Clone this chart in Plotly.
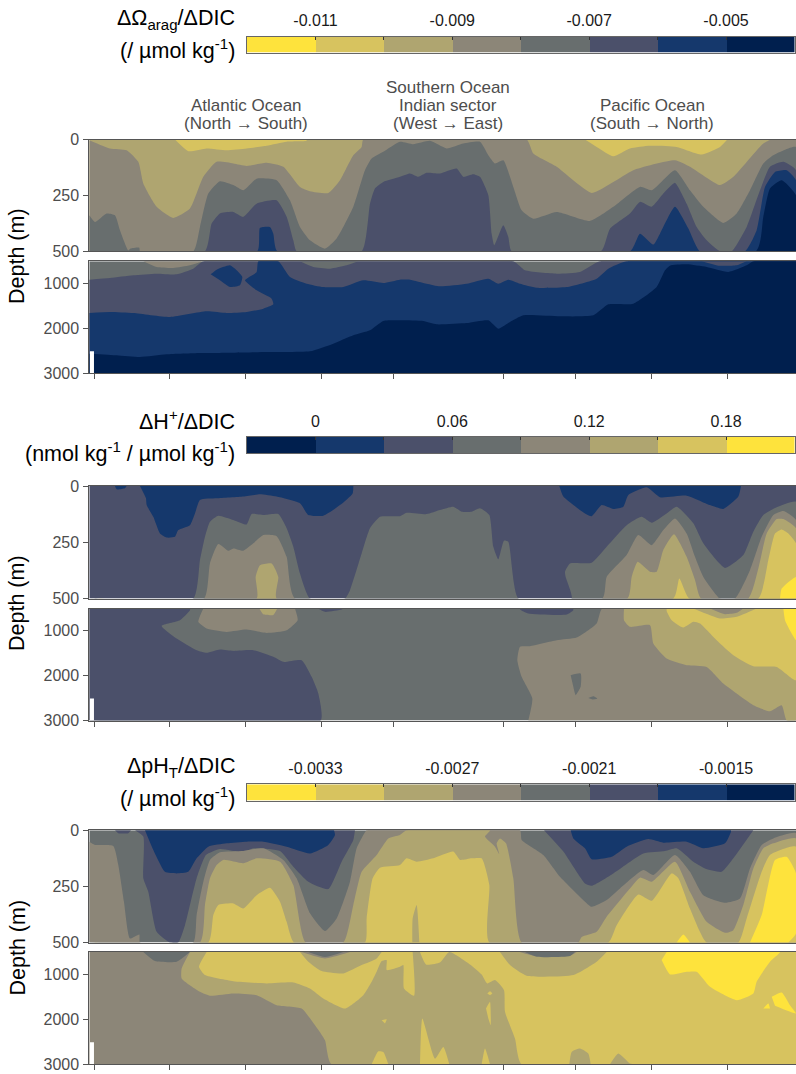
import plotly.graph_objects as go

W, H = 796, 1074
BANDS = {1: "#FEE33C", 2: "#D7C35F", 3: "#AFA570", 4: "#8C8678",
         5: "#686E6E", 6: "#4B506A", 7: "#15386C", 8: "#001F4E"}

SECTION_END = 2120
X_TICKS = [17, 242, 470, 697, 912, 1242, 1459, 1687, 1915]
UPPER_TICKS = [0, 250, 500]
LOWER_TICKS = [1000, 2000, 3000]
MISSING_X = [2, 14, 14, 2]
MISSING_D = [2510, 2510, 3000, 3000]

OMEGA_EDGES = [-0.012, -0.011, -0.010, -0.009, -0.008, -0.007, -0.006, -0.005, -0.004]
OMEGA_TICKS = [-0.011, -0.009, -0.007, -0.005]
OMEGA_LABELS = ["-0.011", "-0.009", "-0.007", "-0.005"]
OMEGA_BANDS = [1, 2, 3, 4, 5, 6, 7, 8]
HPLUS_EDGES = [-0.03, 0, 0.03, 0.06, 0.09, 0.12, 0.15, 0.18, 0.21]
HPLUS_TICKS = [0, 0.06, 0.12, 0.18]
HPLUS_LABELS = ["0", "0.06", "0.12", "0.18"]
HPLUS_BANDS = [8, 7, 6, 5, 4, 3, 2, 1]
PH_EDGES = [-0.0036, -0.0033, -0.0030, -0.0027, -0.0024, -0.0021, -0.0018, -0.0015, -0.0012]
PH_TICKS = [-0.0033, -0.0027, -0.0021, -0.0015]
PH_LABELS = ["-0.0033", "-0.0027", "-0.0021", "-0.0015"]
PH_BANDS = [1, 2, 3, 4, 5, 6, 7, 8]

# ---------- Omega, 0-500 m
OU_2A_X = [257, 297, 352, 412, 472, 532, 592, 652, 652]
OU_2A_D = [0, 52, 40, 48, 40, 28, 10, 6, 0]
OU_2B_X = [1487, 1522, 1572, 1622, 1682, 1762, 1837, 1892, 1914]
OU_2B_D = [0, 33, 75, 40, 28, 33, 67, 33, 0]
OU_4_X = [0, 62, 112, 147, 162, 202, 252, 302, 342, 382, 432, 472, 532, 582, 632, 662, 717, 752, 792, 817, 822,
          1312, 1332, 1402, 1507, 1572, 1632, 1757, 1802, 1892, 1932, 2022, 2047, 2120]
OU_4_D = [3, 40, 48, 100, 197, 301, 351, 309, 167, 100, 107, 118, 104, 122, 212, 231, 239, 182, 70, 33, 0,
          0, 63, 122, 239, 190, 137, 93, 122, 204, 167, 18, 0, 0]
OU_5_X = [0, 17, 52, 77, 92, 117, 124, 150, 152, 312, 332, 357, 392, 432, 462, 502, 562, 602, 632, 662, 707, 742, 792, 827, 847, 882, 932,
          972, 1022, 1072, 1122, 1172, 1197, 1217, 1242, 1272, 1297, 1332, 1402, 1502, 1572, 1652, 1687, 1757, 1802, 1842, 1902, 1942, 1982, 2022, 2052, 2120]
OU_5_D = [339, 369, 331, 339, 406, 496, 488, 484, 500, 500, 391, 242, 187, 204, 227, 175, 182, 272, 391, 451, 488, 443, 301, 137, 85, 55, 10,
          21, 6, 40, 18, 10, 70, 107, 93, 212, 316, 354, 324, 364, 301, 212, 227, 137, 227, 301, 373, 331, 227, 107, 70, 33]
OU_6_X = [0, 347, 367, 392, 432, 462, 502, 562, 592, 612, 622, 817, 842, 857, 882, 932, 962, 987, 1012, 1052, 1102, 1122, 1152, 1172, 1197, 1207, 1215, 1242, 1257, 1267,
          1535, 1562, 1622, 1652, 1687, 1722, 1757, 1792, 1822, 1852, 1892, 1927, 1972, 2012, 2042, 2082, 2120]
OU_6_D = [500, 500, 376, 331, 324, 346, 287, 272, 346, 451, 500, 500, 287, 219, 190, 167, 152, 167, 149, 152, 130, 167, 155, 167, 249, 421, 473, 384, 436, 500,
          500, 399, 331, 279, 301, 242, 194, 287, 391, 451, 500, 500, 391, 227, 122, 100, 137]
OU_7_X = [0, 504, 512, 542, 552, 564, 1622, 1652, 1692, 1712, 1757, 1797, 1832, 1967, 2002, 2027, 2057, 2092, 2120]
OU_7_D = [500, 500, 395, 391, 421, 500, 500, 421, 470, 421, 301, 398, 500, 500, 406, 212, 145, 137, 182]
OU_8_X = [0, 2000, 2022, 2042, 2077, 2120]
OU_8_D = [500, 500, 346, 219, 182, 249]

# ---------- Omega, below 500 m
OL_4A_X = [162, 202, 252, 302, 342]
OL_4A_D = [510, 637, 659, 600, 510]
OL_6_X = [0, 62, 132, 202, 262, 312, 342, 1272, 1307, 1402, 1472, 1532, 2120]
OL_6_D = [918, 881, 822, 785, 800, 674, 510, 510, 711, 785, 748, 510, 510]
OL_5B_X = [632, 672, 722, 772, 807]
OL_5B_D = [510, 637, 674, 600, 510]
OL_7_X = [0, 62, 132, 242, 352, 412, 472, 522, 552, 547, 502, 467, 502, 507, 567, 602, 652, 702, 762, 822, 882, 932,
          962, 1012, 1052, 1132, 1197, 1227, 1257, 1292, 1342, 1432, 1522, 1557, 1612, 2120]
OL_7_D = [1660, 1637, 1660, 1748, 1622, 1660, 1637, 1563, 1467, 1341, 1156, 933, 748, 510, 510, 859, 1007, 1082, 1082, 933, 993, 918,
          918, 1007, 1067, 1007, 896, 1007, 918, 1007, 1097, 1082, 896, 674, 510, 510]
OL_7I_X = [364, 382, 422, 442, 459, 452, 422, 392]
OL_7I_D = [800, 696, 600, 711, 859, 1045, 1082, 933]
OL_6B_X = [1837, 1887, 1942, 1972]
OL_6B_D = [510, 607, 600, 510]
OL_8_X = [0, 82, 152, 232, 332, 432, 532, 662, 732, 792, 842, 882, 932,
          1002, 1042, 1132, 1197, 1227, 1262, 1302, 1412, 1512, 1557, 1632, 1702, 1727, 1742, 1792, 1852, 1917, 1972, 1992, 2120]
OL_8_D = [2564, 2600, 2638, 2578, 2549, 2541, 2527, 2512, 2341, 2156, 2045, 1837, 1822,
          1837, 1911, 1882, 1822, 2008, 1859, 1711, 1733, 1711, 1467, 1452, 1082, 711, 607, 578, 637, 748, 600, 510, 510]

# ---------- H+, 0-500 m
HU_7A_X = [77, 82, 107, 112]
HU_7A_D = [0, 15, 10, 0]
HU_7B_X = [152, 170, 172, 192, 212, 232, 257, 267, 302, 317, 332, 382, 462, 512, 562, 632, 657, 702, 752, 790, 792]
HU_7B_D = [0, 55, 85, 137, 211, 229, 226, 196, 174, 122, 62, 55, 47, 37, 47, 77, 129, 132, 85, 33, 0]
HU_7C_X = [1410, 1422, 1487, 1507, 1537, 1572, 1602, 1617, 1672, 1712, 1792, 1862, 1902, 1947, 1955]
HU_7C_D = [0, 47, 122, 134, 85, 102, 92, 40, 6, 50, 43, 85, 102, 47, 0]
HU_5_X = [0, 312, 332, 347, 362, 387, 432, 472, 487, 527, 567, 592, 612, 632, 662, 767, 782, 817, 842, 872, 932,
          952, 1012, 1052, 1092, 1117, 1147, 1172, 1200, 1212, 1227, 1244, 1257, 1287, 1447, 1429, 1427, 1442, 1507, 1552, 1612, 1657, 1687, 1732, 1762, 1812, 1842, 1907, 1962, 1992, 2022, 2062, 2120]
HU_5_D = [500, 500, 329, 226, 159, 132, 151, 171, 125, 129, 125, 188, 270, 389, 500, 500, 463, 300, 188, 137, 134,
          119, 125, 107, 92, 114, 114, 99, 129, 270, 326, 243, 248, 500, 500, 404, 381, 344, 341, 270, 174, 137, 163, 122, 92, 166, 255, 364, 307, 203, 129, 95, 70]
HU_4_X = [0, 344, 362, 387, 417, 432, 462, 492, 522, 562, 592, 617, 1539, 1552, 1612, 1647, 1687, 1722, 1757, 1792, 1817, 1842, 1892, 1937, 1982, 2017, 2052, 2082, 2120]
HU_4_D = [500, 500, 344, 258, 288, 278, 288, 255, 218, 223, 315, 500, 500, 404, 307, 218, 263, 196, 144, 211, 315, 404, 500, 500, 374, 226, 129, 111, 151]
HU_3_X = [0, 502, 499, 512, 547, 567, 562, 1614, 1627, 1645, 1682, 1702, 1722, 1754, 1792, 1817, 1835, 1977, 2007, 2032, 2062, 2082, 2120]
HU_3_D = [500, 500, 404, 352, 344, 404, 500, 500, 404, 337, 381, 381, 285, 215, 315, 418, 500, 500, 367, 211, 147, 147, 188]
HU_2_X = [0, 1752, 1770, 1800, 2007, 2037, 2057, 2077, 2097, 2120]
HU_2_D = [500, 500, 411, 500, 500, 329, 211, 193, 211, 255]
HU_1_X = [2072, 2077, 2120, 2120]
HU_1_D = [500, 456, 404, 500]

# ---------- H+, below 500 m
HL_6A_X = [0, 302, 302, 272, 217, 262, 322, 352, 392, 432, 492, 552, 582, 637, 667, 687, 694, 0]
HL_6A_D = [510, 510, 548, 770, 896, 1178, 1437, 1496, 1422, 1452, 1437, 1585, 1696, 1659, 2030, 2400, 3000, 3000]
HL_6B_X = [687, 707, 757, 762]
HL_6B_D = [510, 585, 533, 510]
HL_6C_X = [1292, 1292, 1317, 1432, 1452, 1452]
HL_6C_D = [510, 533, 622, 644, 548, 510]
HL_4A_X = [342, 327, 352, 412, 472, 532, 592, 625, 617]
HL_4A_D = [510, 807, 955, 1030, 978, 1052, 993, 770, 510]
HL_3A_X = [510, 522, 552, 564]
HL_3A_D = [510, 637, 652, 510]
HL_4B_X = [1317, 1329, 1297, 1284, 1292, 1322, 1402, 1462, 1522, 1539, 2120, 2120]
HL_4B_D = [3000, 2512, 2030, 1659, 1363, 1348, 1215, 1156, 844, 510, 510, 3000]
HL_5A_X = [1444, 1474, 1474, 1459, 1452]
HL_5A_D = [1993, 1956, 2252, 2437, 2252]
HL_5B_X = [1497, 1512, 1524, 1510]
HL_5B_D = [2497, 2460, 2512, 2534]
HL_3B_X = [1604, 1604, 1622, 1682, 1692, 1732, 1792, 1852, 1902, 1942, 1992, 2042, 2077, 2092, 2120, 2120]
HL_3B_D = [510, 770, 918, 881, 1289, 1622, 1770, 1808, 2178, 2400, 2660, 2793, 2660, 3000, 3000, 510]
HL_2A_X = [1732, 1732, 1747, 1782, 1812, 1832, 1882, 1932, 1992, 2062, 2120, 2120]
HL_2A_D = [510, 563, 770, 933, 807, 844, 1215, 1548, 1793, 1808, 2104, 510]
HL_3C_X = [1812, 1892, 1942, 2002]
HL_3C_D = [510, 733, 696, 510]
HL_4C_X = [1862, 1907, 1942, 1962]
HL_4C_D = [510, 637, 607, 510]
HL_1_X = [2082, 2087, 2107, 2120, 2120]
HL_1_D = [510, 770, 1067, 1215, 510]

# ---------- pH, 0-500 m
PU_6A_X = [77, 87, 117, 125]
PU_6A_D = [0, 13, 13, 0]
PU_6B_X = [137, 162, 162, 177, 202, 242, 267, 287, 322, 350, 392, 462, 492, 572, 612, 657, 717, 757, 792, 797]
PU_6B_D = [0, 28, 214, 274, 452, 500, 500, 423, 214, 110, 83, 98, 80, 92, 162, 229, 262, 140, 43, 0]
PU_7A_X = [167, 192, 227, 262, 297, 322, 357, 412, 472, 522, 592, 662, 717, 737, 734]
PU_7A_D = [0, 88, 185, 192, 185, 125, 73, 58, 51, 51, 73, 103, 65, 21, 0]
PU_6C_X = [1364, 1422, 1487, 1507, 1572, 1662, 1727, 1762, 1812, 1847, 1897, 1932, 1992]
PU_6C_D = [0, 95, 237, 247, 192, 103, 92, 80, 140, 170, 185, 125, 0]
PU_7B_X = [1444, 1452, 1487, 1507, 1567, 1612, 1677, 1722, 1792, 1842, 1907, 1925, 1925]
PU_7B_D = [0, 36, 80, 129, 118, 73, 39, 55, 51, 80, 58, 6, 0]
PU_4_X = [0, 17, 72, 87, 104, 122, 150, 152, 312, 322, 342, 362, 392, 462, 522, 582, 622, 662, 707, 742, 782, 802, 827, 832,
          1292, 1297, 1362, 1412, 1487, 1507, 1552, 1592, 1662, 1692, 1757, 1802, 1842, 1907, 1952, 1982, 2017, 2052, 2120]
PU_4_D = [51, 65, 70, 155, 318, 482, 464, 500, 500, 378, 229, 132, 98, 92, 80, 132, 214, 370, 449, 393, 229, 80, 9, 0,
          0, 43, 110, 207, 318, 341, 311, 259, 177, 199, 110, 185, 289, 323, 304, 170, 65, 36, 13]
PU_3_X = [0, 332, 347, 362, 382, 402, 462, 502, 572, 612, 649, 762, 792, 817, 862, 897, 932,
          952, 1202, 1187, 1217, 1230, 1222, 1232, 1250, 1272, 1297, 1467, 1477, 1522, 1552, 1622, 1652, 1687, 1757, 1802, 1852, 1907, 1932, 1962, 1992, 2022, 2052, 2120]
PU_3_D = [500, 500, 333, 214, 155, 132, 147, 125, 140, 244, 500, 500, 333, 185, 110, 36, 21,
          0, 0, 28, 73, 107, 58, 36, 58, 214, 500, 500, 475, 452, 385, 259, 211, 229, 140, 274, 408, 457, 445, 333, 170, 80, 58, 36]
PU_2_X = [0, 357, 372, 387, 432, 462, 502, 542, 572, 592, 614, 827, 832, 850, 872, 932,
          952, 982, 1032, 1092, 1112, 1147, 1177, 1200, 1200, 1557, 1582, 1647, 1687, 1747, 1767, 1802, 1852, 1947, 1972, 2017, 2042, 2120]
PU_2_D = [500, 500, 378, 333, 326, 348, 289, 256, 318, 408, 500, 500, 393, 214, 167, 155,
          125, 140, 125, 95, 132, 125, 125, 244, 500, 500, 423, 286, 314, 192, 214, 348, 500, 500, 393, 185, 110, 73]
PU_3W_X = [969, 970, 982, 990]
PU_3W_D = [500, 393, 333, 500]
PU_1A_X = [1982, 2017, 2057, 2092, 2120, 2120, 2097]
PU_1A_D = [500, 378, 132, 118, 192, 460, 500]
PU_1B_X = [1762, 1782, 1802]
PU_1B_D = [500, 464, 500]

# ---------- pH, below 500 m
PL_5A_X = [162, 197, 262, 302]
PL_5A_D = [510, 711, 726, 510]
PL_3A_X = [302, 277, 277, 332, 362, 432, 502, 562, 637, 677, 707, 727, 2120, 2120]
PL_3A_D = [510, 874, 1096, 1393, 1481, 1430, 1467, 1689, 1763, 2134, 2467, 3000, 3000, 510]
PL_2A_X = [352, 329, 347, 432, 532, 612, 662, 702, 767, 822, 847, 862, 877, 892, 892, 932, 942, 944, 974, 970]
PL_2A_D = [510, 837, 1022, 1156, 1207, 1185, 1319, 1541, 1763, 1467, 1170, 948, 711, 689, 911, 837, 800, 1319, 1481, 510]
PL_3L_X = [632, 657, 697, 762, 817, 862, 877]
PL_3L_D = [510, 726, 933, 985, 800, 652, 510]
PL_4B_X = [637, 707, 782]
PL_4B_D = [510, 652, 510]
PL_5B_X = [657, 707, 762]
PL_5B_D = [510, 622, 510]
PL_2B_X = [992, 1010, 1052, 1080, 1142, 1177, 1194, 1217, 1244, 1247, 1277, 1297, 2120, 2120]
PL_2B_D = [510, 785, 741, 510, 785, 1007, 1207, 1133, 1356, 1837, 2430, 3000, 3000, 510]
PL_3B_X = [1232, 1262, 1312, 1452, 1522, 1552]
PL_3B_D = [510, 800, 1037, 1022, 726, 510]
PL_4C_X = [1292, 1332, 1442, 1462]
PL_4C_D = [510, 593, 593, 510]
PL_5C_X = [1307, 1342, 1442, 1457]
PL_5C_D = [510, 615, 600, 510]
PL_W1_X = [992, 999, 1037, 1062, 1080]
PL_W1_D = [3000, 1986, 2875, 2615, 3000]
PL_W2_X = [1177, 1187, 1202]
PL_W2_D = [3000, 2652, 3000]
PL_W3_X = [1190, 1202, 1204, 1197]
PL_W3_D = [1763, 1615, 2134, 1986]
PL_W4_X = [1194, 1202, 1209, 1202]
PL_W4_D = [1430, 1378, 1430, 1467]
PL_W5_X = [847, 867, 882, 897]
PL_W5_D = [3000, 2711, 2726, 3000]
PL_W6_X = [877, 892, 887]
PL_W6_D = [2022, 2000, 2096]
PL_B1_X = [1440, 1447, 1472, 1497, 1504]
PL_B1_D = [3000, 2726, 2652, 2763, 3000]
PL_B2_X = [1562, 1587, 1622, 1632]
PL_B2_D = [3000, 2763, 2985, 3000]
PL_1A_X = [1717, 1742, 1792, 1822, 1862, 1942, 1992, 2002, 2042, 2072, 1732]
PL_1A_D = [689, 1007, 948, 948, 1282, 1578, 1430, 1170, 726, 510, 510]
PL_1B_X = [2022, 2037, 2042]
PL_1B_D = [1763, 1652, 1763]
PL_1C_X = [2047, 2077, 2102, 2120, 2057]
PL_1C_D = [1504, 1407, 1689, 1874, 1704]

# panel table: base band, then regions painted in order (band, x, depth, closes along bottom)
PANELS = [
    dict(rng=[500, 0], ticks=UPPER_TICKS, top=139.5, bot=251.3, base=3, regions=[
        (2, OU_2A_X, OU_2A_D, 0), (2, OU_2B_X, OU_2B_D, 0), (4, OU_4_X, OU_4_D, 1), (5, OU_5_X, OU_5_D, 1),
        (6, OU_6_X, OU_6_D, 1), (7, OU_7_X, OU_7_D, 1), (8, OU_8_X, OU_8_D, 1)]),
    dict(rng=[3000, 510], ticks=LOWER_TICKS, top=261.3, bot=373.3, base=5, regions=[
        (4, OL_4A_X, OL_4A_D, 0), (6, OL_6_X, OL_6_D, 1), (5, OL_5B_X, OL_5B_D, 0), (7, OL_7_X, OL_7_D, 1),
        (7, OL_7I_X, OL_7I_D, 0), (6, OL_6B_X, OL_6B_D, 0), (8, OL_8_X, OL_8_D, 1)]),
    dict(rng=[500, 0], ticks=UPPER_TICKS, top=486, bot=598.5, base=6, regions=[
        (7, HU_7A_X, HU_7A_D, 0), (7, HU_7B_X, HU_7B_D, 0), (7, HU_7C_X, HU_7C_D, 0), (5, HU_5_X, HU_5_D, 1),
        (4, HU_4_X, HU_4_D, 1), (3, HU_3_X, HU_3_D, 1), (2, HU_2_X, HU_2_D, 1), (1, HU_1_X, HU_1_D, 0)]),
    dict(rng=[3000, 510], ticks=LOWER_TICKS, top=608.5, bot=720.5, base=5, regions=[
        (6, HL_6A_X, HL_6A_D, 0), (6, HL_6B_X, HL_6B_D, 0), (6, HL_6C_X, HL_6C_D, 0), (4, HL_4A_X, HL_4A_D, 0),
        (3, HL_3A_X, HL_3A_D, 0), (4, HL_4B_X, HL_4B_D, 0), (5, HL_5A_X, HL_5A_D, 0), (5, HL_5B_X, HL_5B_D, 0),
        (3, HL_3B_X, HL_3B_D, 0), (2, HL_2A_X, HL_2A_D, 0), (3, HL_3C_X, HL_3C_D, 0), (4, HL_4C_X, HL_4C_D, 0),
        (1, HL_1_X, HL_1_D, 0)]),
    dict(rng=[500, 0], ticks=UPPER_TICKS, top=830.3, bot=942.5, base=5, regions=[
        (6, PU_6A_X, PU_6A_D, 0), (6, PU_6B_X, PU_6B_D, 0), (7, PU_7A_X, PU_7A_D, 0), (6, PU_6C_X, PU_6C_D, 0),
        (7, PU_7B_X, PU_7B_D, 0), (4, PU_4_X, PU_4_D, 1), (3, PU_3_X, PU_3_D, 1), (2, PU_2_X, PU_2_D, 1),
        (3, PU_3W_X, PU_3W_D, 0), (1, PU_1A_X, PU_1A_D, 0), (1, PU_1B_X, PU_1B_D, 0)]),
    dict(rng=[3000, 510], ticks=LOWER_TICKS, top=952, bot=1064.3, base=4, regions=[
        (5, PL_5A_X, PL_5A_D, 0), (3, PL_3A_X, PL_3A_D, 0), (2, PL_2A_X, PL_2A_D, 0), (3, PL_3L_X, PL_3L_D, 0),
        (4, PL_4B_X, PL_4B_D, 0), (5, PL_5B_X, PL_5B_D, 0), (2, PL_2B_X, PL_2B_D, 0), (3, PL_3B_X, PL_3B_D, 0),
        (4, PL_4C_X, PL_4C_D, 0), (5, PL_5C_X, PL_5C_D, 0), (2, PL_W1_X, PL_W1_D, 0), (2, PL_W2_X, PL_W2_D, 0),
        (2, PL_W3_X, PL_W3_D, 0), (2, PL_W4_X, PL_W4_D, 0), (2, PL_W5_X, PL_W5_D, 0), (2, PL_W6_X, PL_W6_D, 0),
        (3, PL_B1_X, PL_B1_D, 0), (3, PL_B2_X, PL_B2_D, 0), (1, PL_1A_X, PL_1A_D, 0), (1, PL_1B_X, PL_1B_D, 0),
        (1, PL_1C_X, PL_1C_D, 0)]),
]

LEGENDS = [
    dict(edges=OMEGA_EDGES, ticks=OMEGA_TICKS, labels=OMEGA_LABELS, bands=OMEGA_BANDS, top=36.5, bot=52.5),
    dict(edges=HPLUS_EDGES, ticks=HPLUS_TICKS, labels=HPLUS_LABELS, bands=HPLUS_BANDS, top=437, bot=453.3),
    dict(edges=PH_EDGES, ticks=PH_TICKS, labels=PH_LABELS, bands=PH_BANDS, top=784.3, bot=800.7),
]

FONT = "Liberation Sans"
GREY = "#4D4D4D"
LINE = "#555555"
AX_LEFT, AX_RIGHT = 89.3, 796
LEG_LEFT, LEG_RIGHT = 247, 794.5

fig = go.Figure()
layout = {}


def fill(x, y, color, xa, ya, smooth=True):
    line = dict(width=0, color=color)
    if smooth:
        line.update(shape="spline", smoothing=0.5)
    fig.add_trace(go.Scatter(x=x, y=y, mode="lines", line=line, fill="toself",
                             fillcolor=color, hoverinfo="skip", showlegend=False, xaxis=xa, yaxis=ya))


for i, p in enumerate(PANELS, start=1):
    xa, ya = f"x{i}", f"y{i}"
    bottom, top = p["rng"]
    fill([0, SECTION_END, SECTION_END, 0], [top, top, bottom, bottom], BANDS[p["base"]], xa, ya, smooth=False)
    for band, xs, ds, below in p["regions"]:
        if below:
            fill(xs + [xs[-1], xs[0]], ds + [bottom, bottom], BANDS[band], xa, ya)
        else:
            fill(xs, ds, BANDS[band], xa, ya)
    lower = i % 2 == 0
    if lower:
        fill(MISSING_X, MISSING_D, "#FFFFFF", xa, ya, smooth=False)
    layout[f"xaxis{i}"] = dict(domain=[AX_LEFT / W, AX_RIGHT / W], range=[0, SECTION_END], anchor=ya, automargin=False,
                               showgrid=False, zeroline=False, showline=True, mirror=True, linecolor=LINE,
                               linewidth=1, tickvals=X_TICKS if lower else [], showticklabels=False,
                               ticks="outside" if lower else "", ticklen=5, tickcolor=LINE, tickwidth=1)
    layout[f"yaxis{i}"] = dict(domain=[1 - p["bot"] / H, 1 - p["top"] / H], range=p["rng"], anchor=xa, automargin=False,
                               showgrid=False, zeroline=False, showline=True, linecolor=LINE, linewidth=1,
                               tickvals=p["ticks"], ticks="outside", ticklen=5, tickcolor=LINE, tickwidth=1,
                               tickfont=dict(family=FONT, size=16, color=GREY), ticklabelstandoff=1)

for j, lg in enumerate(LEGENDS, start=7):
    xa, ya = f"x{j}", f"y{j}"
    scale = []
    for k in range(1, 9):
        scale += [[(k - 1) / 8, BANDS[k]], [k / 8, BANDS[k]]]
    fig.add_trace(go.Heatmap(x=lg["edges"], y=[0, 1], z=[lg["bands"]], zmin=0.5, zmax=8.5, colorscale=scale,
                             showscale=False, hoverinfo="skip", xaxis=xa, yaxis=ya))
    layout[f"xaxis{j}"] = dict(domain=[LEG_LEFT / W, LEG_RIGHT / W], range=[lg["edges"][0], lg["edges"][-1]],
                               anchor=ya, side="top", automargin=False, showgrid=False, zeroline=False, showline=True,
                               mirror=True, linecolor="#666666", linewidth=1, tickvals=lg["ticks"], ticktext=lg["labels"],
                               ticks="inside", ticklen=3, tickcolor="#333333", tickwidth=1,
                               minor=dict(tickvals=lg["edges"][1:-1], ticks="inside", ticklen=3,
                                          tickcolor="#333333", tickwidth=1, showgrid=False),
                               tickfont=dict(family=FONT, size=16, color="#1A1A1A"), ticklabelstandoff=3)
    layout[f"yaxis{j}"] = dict(domain=[1 - lg["bot"] / H, 1 - lg["top"] / H], range=[0, 1], anchor=xa, automargin=False,
                               showgrid=False, zeroline=False, showticklabels=False, ticks="",
                               showline=True, mirror=True, linecolor="#666666", linewidth=1)


def note(text, px, py, size, color="#000000", anchor="center", angle=0):
    return dict(text=text, x=px / W, y=1 - py / H, xref="paper", yref="paper", showarrow=False,
                xanchor=anchor, yanchor="middle", textangle=angle,
                font=dict(family=FONT, size=size, color=color))


annots = []
for text, py in [("ΔΩ<sub>arag</sub>/ΔDIC", 19), ("(/ µmol kg<sup>-1</sup>)", 49),
                 ("ΔH<sup>+</sup>/ΔDIC", 420), ("(nmol kg<sup>-1</sup> / µmol kg<sup>-1</sup>)", 452),
                 ("ΔpH<sub>T</sub>/ΔDIC", 767), ("(/ µmol kg<sup>-1</sup>)", 797)]:
    annots.append(note(text, 236.5, py, 21.5, anchor="right"))
for text, px, py in [("Atlantic Ocean", 246, 105.7), ("(North → South)", 246, 124),
                     ("Southern Ocean", 448, 87.5), ("Indian sector", 448, 105.7), ("(West → East)", 448, 124),
                     ("Pacific Ocean", 652, 105.7), ("(South → North)", 652, 124)]:
    annots.append(note(text, px, py, 17, color=GREY))
for py in [256, 603, 947.5]:
    annots.append(note("Depth (m)", 17, py, 21.5, angle=-90))

fig.update_layout(width=W, height=H, margin=dict(l=0, r=0, t=0, b=0), autosize=False,
                  paper_bgcolor="white", plot_bgcolor="white", showlegend=False, annotations=annots, **layout)
PAGE_FIX = ("document.documentElement.style.overflow='hidden';document.body.style.margin='0';"
            "var g=document.getElementById('{plot_id}');g.style.position='absolute';g.style.left='0';g.style.top='0';")
fig.write_html("out.html", config=dict(displayModeBar=False), post_script=PAGE_FIX,
               default_width=W, default_height=H)
